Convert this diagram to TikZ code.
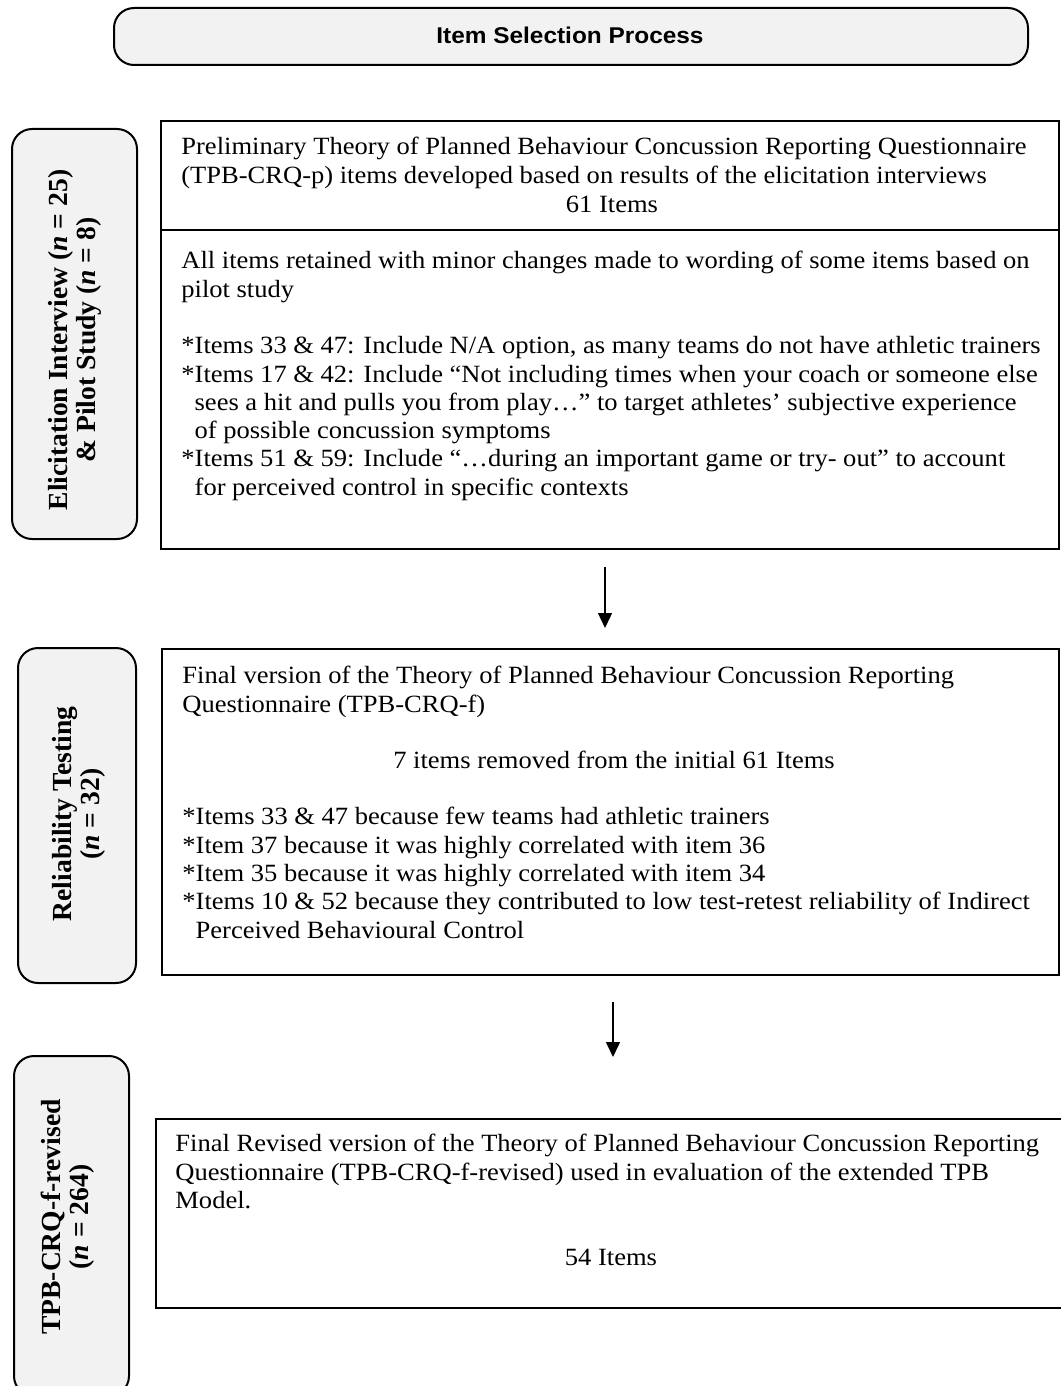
\documentclass[tikz,border=0pt]{standalone}
\usepackage{fontspec}
\usetikzlibrary{arrows.meta}
\newfontfamily\bodyserif{Liberation Serif}[FakeStretch=1.07]
\newfontfamily\labelserif{Liberation Serif}
\newfontfamily\titlesans{Liberation Sans}[FakeStretch=1.07]
\definecolor{panelgray}{HTML}{F2F2F2}
\newcommand{\bodyfont}{\bodyserif\fontsize{12.4}{14.15}\selectfont}
\newcommand{\labelfont}{\labelserif\bfseries\fontsize{13.8}{14}\selectfont}
\newcommand{\cont}{\hphantom{*}}

\begin{document}
\begin{tikzpicture}[x=0.5pt,y=-0.5pt,
  sidebox/.style={draw=black, line width=1pt, fill=panelgray,
    rounded corners=10pt, anchor=north west, inner sep=0pt},
  panel/.style={draw=black, line width=1pt, anchor=north west, inner sep=0pt},
  body/.style={inner sep=0pt, anchor=north west, align=left, font=\bodyfont},
  centred/.style={inner sep=0pt, anchor=base, font=\bodyfont},
  sidelabel/.style={inner sep=0pt, rotate=90, align=center, font=\labelfont},
  flowarrow/.style={draw=black, line width=0.7pt,
    -{Triangle[width=7pt,length=7.5pt]}}
]
\useasboundingbox (0,0) rectangle (1060,1386);

% heading
\node[sidebox, minimum width=457pt, minimum height=28.5pt] (title) at (113,7) {};
\node[font=\titlesans\bfseries\fontsize{11.4}{13}\selectfont] (titletext) at (570,35.5) {Item Selection Process};

% stage 1: elicitation interviews and pilot study
\node[sidebox, minimum width=62.5pt, minimum height=205pt] (s1) at (11,128) {};
\node[sidelabel] (s1text) at (75,340) {Elicitation Interview (\textit{n} = 25)\\ \& Pilot Study (\textit{n} = 8)};
\node[panel, minimum width=449pt, minimum height=214pt] (p1) at (160,120) {};
\draw[line width=1pt] (160,230) -- (1058,230);
\node[body] (p1a) at (181,137) {Preliminary Theory of Planned Behaviour Concussion Reporting Questionnaire\\
(TPB-CRQ-p) items developed based on results of the elicitation interviews};
\node[centred] (p1n) at (612,212) {61 Items};
\node[body] (p1b) at (181,251) {All items retained with minor changes made to wording of some items based on\\
pilot study\\
\mbox{}\\
*Items 33 \& 47: Include N/A option, as many teams do not have athletic trainers\\
*Items 17 \& 42: Include “Not including times when your coach or someone else\\
\cont sees a hit and pulls you from play…” to target athletes’ subjective experience\\
\cont of possible concussion symptoms\\
*Items 51 \& 59: Include “…during an important game or try- out” to account\\
\cont for perceived control in specific contexts};

% stage 2: reliability testing
\node[sidebox, minimum width=59pt, minimum height=167.5pt] (s2) at (17,647) {};
\node[sidelabel] (s2text) at (79,814) {Reliability Testing\\ (\textit{n} = 32)};
\node[panel, minimum width=448.5pt, minimum height=163pt] (p2) at (161,648) {};
\node[body] (p2a) at (182,666) {Final version of the Theory of Planned Behaviour Concussion Reporting\\
Questionnaire (TPB-CRQ-f)};
\node[centred] (p2n) at (614,768) {7 items removed from the initial 61 Items};
\node[body] (p2b) at (182,807) {*Items 33 \& 47 because few teams had athletic trainers\\
*Item 37 because it was highly correlated with item 36\\
*Item 35 because it was highly correlated with item 34\\
*Items 10 \& 52 because they contributed to low test-retest reliability of Indirect\\
\cont Perceived Behavioural Control};

% stage 3: final revised questionnaire
\node[sidebox, minimum width=57.5pt, minimum height=170pt] (s3) at (13,1055) {};
\node[sidelabel] (s3text) at (68,1217) {TPB-CRQ-f-revised\\ (\textit{n} = 264)};
\node[panel, minimum width=460pt, minimum height=94.5pt] (p3) at (155,1118) {};
\node[body] (p3a) at (175,1134) {Final Revised version of the Theory of Planned Behaviour Concussion Reporting\\
Questionnaire (TPB-CRQ-f-revised) used in evaluation of the extended TPB\\
Model.};
\node[centred] (p3n) at (611,1265) {54 Items};

% flow between stages
\coordinate (a1) at (605,0);
\coordinate (a2) at (613,0);
\draw[flowarrow, shorten <=8.5pt, shorten >=10pt] (p1.south -| a1) -- (p2.north -| a1);
\draw[flowarrow, shorten <=13pt, shorten >=30.5pt] (p2.south -| a2) -- (p3.north -| a2);
\end{tikzpicture}
\end{document}
